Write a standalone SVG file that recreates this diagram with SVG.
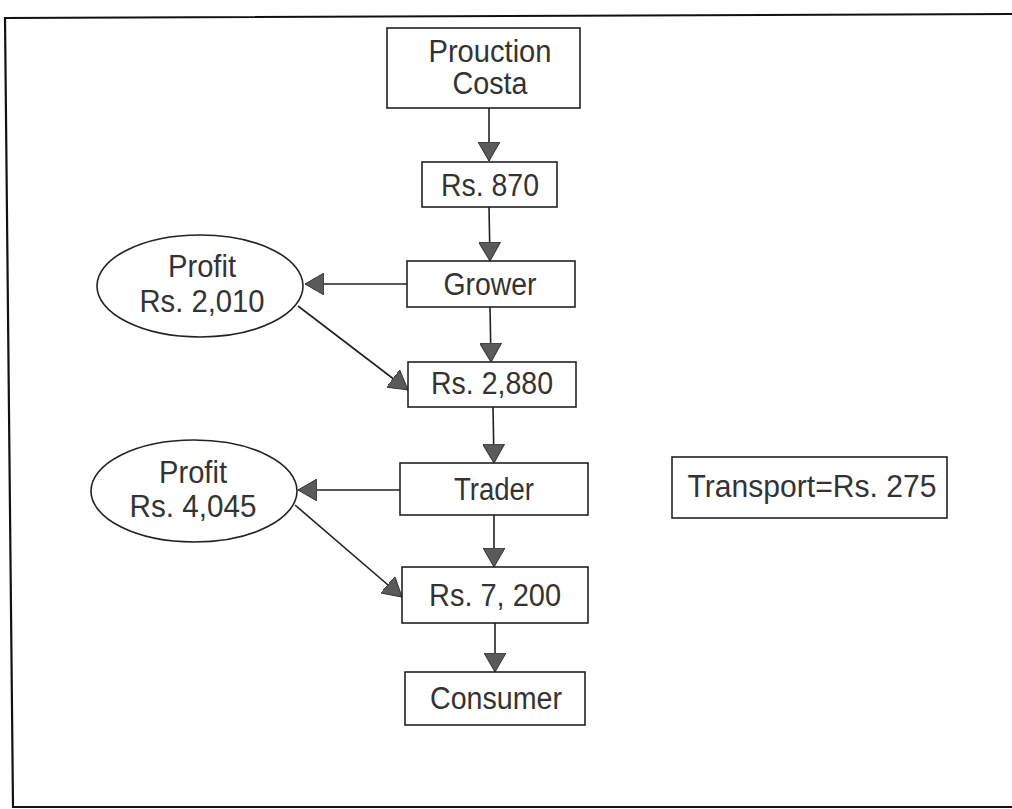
<svg xmlns="http://www.w3.org/2000/svg" width="1012" height="809" viewBox="0 0 1012 809">
<style>
.box{fill:#fff;stroke:#222;stroke-width:1.6}
.t{font-family:"Liberation Sans",Arial,sans-serif;font-size:31px;fill:#333;text-anchor:middle}
.c{stroke:#222;stroke-width:1.6;fill:none;marker-end:url(#ah)}
.frame{stroke:#111;stroke-width:2.2;fill:none}
</style>
<defs>
<marker id="ah" viewBox="0 0 19 22" refX="19" refY="11" markerWidth="19" markerHeight="22" markerUnits="userSpaceOnUse" orient="auto">
<path d="M0,0 L19,11 L0,22 Z" fill="#5a5a5a" stroke="#333" stroke-width="1"/>
</marker>
</defs>
<rect width="1012" height="809" fill="#fff"/>
<path class="frame" d="M1012,14 L5,18 L13,807 L1012,807"/>
<g id="connectors">
<line class="c" x1="489" y1="108" x2="489" y2="161"/>
<line class="c" x1="489" y1="207" x2="490" y2="261"/>
<line class="c" x1="407" y1="284" x2="305" y2="284"/>
<line class="c" x1="490" y1="307" x2="491" y2="362"/>
<line class="c" x1="298" y1="306" x2="408" y2="390"/>
<line class="c" x1="493" y1="407" x2="494" y2="463"/>
<line class="c" x1="400" y1="490" x2="298" y2="490"/>
<line class="c" x1="494" y1="515" x2="494" y2="567"/>
<line class="c" x1="295" y1="505" x2="402" y2="597"/>
<line class="c" x1="495" y1="623" x2="495" y2="672"/>
</g>
<g id="production"><rect class="box" x="387" y="28" width="193" height="80"/><text class="t" x="490" y="62" textLength="123" lengthAdjust="spacingAndGlyphs">Prouction</text><text class="t" x="490" y="94" textLength="75" lengthAdjust="spacingAndGlyphs">Costa</text></g>
<g id="rs870"><rect class="box" x="422" y="162" width="135" height="45"/><text class="t" x="490" y="196" textLength="98" lengthAdjust="spacingAndGlyphs">Rs. 870</text></g>
<g id="grower"><rect class="box" x="407" y="261" width="168" height="46"/><text class="t" x="490" y="295" textLength="93" lengthAdjust="spacingAndGlyphs">Grower</text></g>
<g id="profit1"><ellipse class="box" cx="200" cy="286" rx="103" ry="51"/><text class="t" x="202" y="277" textLength="68" lengthAdjust="spacingAndGlyphs">Profit</text><text class="t" x="202" y="312" textLength="125" lengthAdjust="spacingAndGlyphs">Rs. 2,010</text></g>
<g id="rs2880"><rect class="box" x="408" y="362" width="168" height="45"/><text class="t" x="492" y="394" textLength="122" lengthAdjust="spacingAndGlyphs">Rs. 2,880</text></g>
<g id="trader"><rect class="box" x="400" y="463" width="188" height="52"/><text class="t" x="494" y="500" textLength="80" lengthAdjust="spacingAndGlyphs">Trader</text></g>
<g id="profit2"><ellipse class="box" cx="194" cy="491" rx="103" ry="51"/><text class="t" x="193" y="483" textLength="68" lengthAdjust="spacingAndGlyphs">Profit</text><text class="t" x="193" y="517" textLength="127" lengthAdjust="spacingAndGlyphs">Rs. 4,045</text></g>
<g id="rs7200"><rect class="box" x="402" y="567" width="186" height="56"/><text class="t" x="495" y="606" textLength="132" lengthAdjust="spacingAndGlyphs">Rs. 7, 200</text></g>
<g id="consumer"><rect class="box" x="405" y="672" width="180" height="53"/><text class="t" x="496" y="709" textLength="132" lengthAdjust="spacingAndGlyphs">Consumer</text></g>
<g id="transport"><rect class="box" x="672" y="457" width="275" height="61"/><text class="t" x="812" y="497" textLength="249" lengthAdjust="spacingAndGlyphs">Transport=Rs. 275</text></g>
</svg>
